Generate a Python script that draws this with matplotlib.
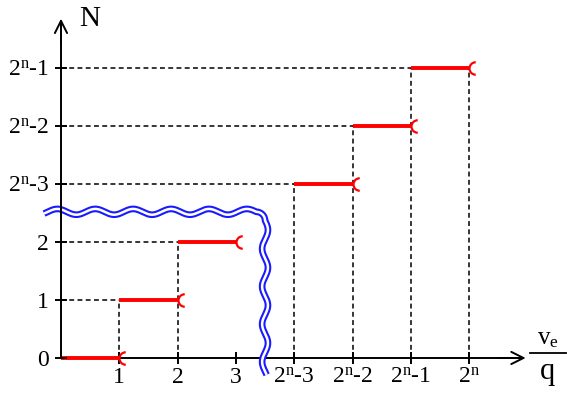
import numpy as np
import matplotlib
matplotlib.use("Agg")
import matplotlib.pyplot as plt
from matplotlib.path import Path

plt.rcParams["font.family"] = ["Liberation Serif", "DejaVu Serif"]
plt.rcParams["mathtext.fontset"] = "custom"
plt.rcParams["mathtext.rm"] = "Liberation Serif"
plt.rcParams["mathtext.it"] = "Liberation Serif"

# quantizer staircase: code N held from step_start to step_end (in units of q)
levels = [0, 1, 2, 3, 4, 5]
step_start = [0, 1, 2, 4, 5, 6]
step_end = [1, 2, 3, 5, 6, 7]

x_ticks = [1, 2, 3, 4, 5, 6, 7]
x_labels = ["1", "2", "3", r"$\mathrm{2^n}$-3", r"$\mathrm{2^n}$-2",
            r"$\mathrm{2^n}$-1", r"$\mathrm{2^n}$"]
y_ticks = [0, 1, 2, 3, 4, 5]
y_labels = ["0", "1", "2", r"$\mathrm{2^n}$-3", r"$\mathrm{2^n}$-2",
            r"$\mathrm{2^n}$-1"]

fig = plt.figure(figsize=(5.67, 3.94), dpi=100)
ax = fig.add_axes([0, 0, 1, 1])
ax.set_xlim(-1.046, 8.679)
ax.set_ylim(-0.621, 6.172)

# axes as spines through the origin
for s in ("top", "right"):
    ax.spines[s].set_visible(False)
ax.spines["left"].set_position(("data", 0))
ax.spines["bottom"].set_position(("data", 0))
ax.spines["left"].set_bounds(0, 5.8)
ax.spines["bottom"].set_bounds(0, 7.9)
for s in ("left", "bottom"):
    ax.spines[s].set_linewidth(1.4)
ax.spines["left"].set_zorder(5)
ax.yaxis.set_zorder(5)

ax.set_xticks(x_ticks, x_labels)
ax.set_yticks(y_ticks, y_labels)
ax.tick_params(direction="inout", length=9, width=1.4, labelsize=17, pad=2)
ax.tick_params(axis="y", pad=4)

arrow = dict(arrowstyle="->", lw=1.4, color="black", mutation_scale=22,
             shrinkA=0, shrinkB=0)
ax.annotate("", xy=(7.97, 0), xytext=(7.5, 0), arrowprops=arrow)
ax.annotate("", xy=(0, 5.85), xytext=(0, 5.4), arrowprops=arrow, zorder=5)

# dashed guide lines
dash = dict(color="black", lw=1.1, ls=(0, (3.2, 2.2)), zorder=2)
for lv, x0 in zip(levels, step_start):
    if lv > 0:
        ax.plot([0, x0], [lv, lv], **dash)
        ax.plot([x0, x0], [0, lv], **dash)
ax.plot([step_end[-1], step_end[-1]], [0, levels[-1]], **dash)

# open right end marker "("
arc = Path.arc(90, 270)
open_end = Path(arc.vertices + [1, 0], arc.codes)
for lv, x0, x1 in zip(levels, step_start, step_end):
    ax.plot([x0, x1], [lv, lv], color="red", lw=2.8, solid_capstyle="butt", zorder=4)
    ax.plot([x1], [lv], marker=open_end, ms=9, mew=1.6, mfc="none",
            mec="red", ls="none", zorder=4)

# double wavy break line
amp, per = 0.05, 0.65
yh, xv, r = 2.52, 3.5, 0.15
xh = np.linspace(-0.29, xv - r, 300)
seg_h = np.column_stack([xh, yh + amp * np.sin(2 * np.pi * (xv - r - xh) / per)])
t = np.linspace(np.pi / 2, 0, 30)
seg_c = np.column_stack([xv - r + r * np.cos(t), yh - r + r * np.sin(t)])
yv = np.linspace(yh - r, -0.29, 300)
seg_v = np.column_stack([xv + amp * np.sin(2 * np.pi * (yh - r - yv) / per), yv])
wave = np.vstack([seg_h, seg_c, seg_v])
ax.plot(wave[:, 0], wave[:, 1], color="#1a1aff", lw=4.8, solid_capstyle="butt", zorder=3)
ax.plot(wave[:, 0], wave[:, 1], color="white", lw=1.8, solid_capstyle="butt", zorder=3.1)

# axis titles
ax.text(0.5, 5.84, "N", fontsize=21, ha="center", va="center")
ax.text(8.35, 0.14, r"$\mathrm{v_e}$", fontsize=18, ha="center", va="bottom")
ax.plot([8.05, 8.66], [0.085, 0.085], color="black", lw=1.3)
ax.text(8.35, 0.02, "q", fontsize=22, ha="center", va="top")

fig.savefig("out.png", dpi=100)
